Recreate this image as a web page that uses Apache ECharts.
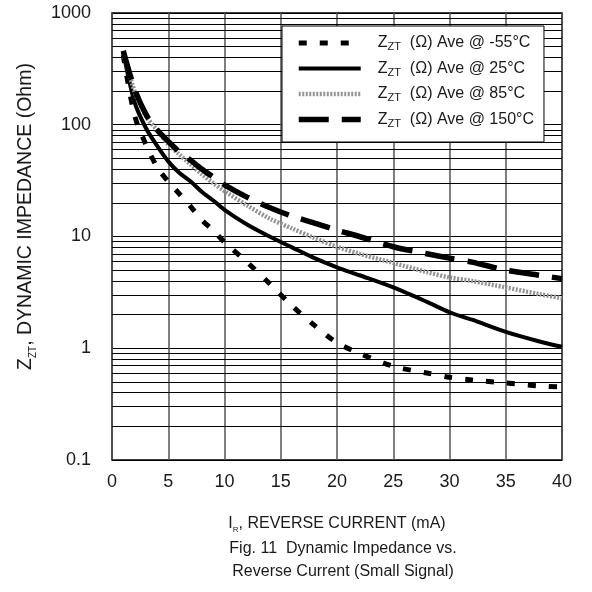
<!DOCTYPE html>
<html>
<head>
<meta charset="utf-8">
<script src="https://cdn.jsdelivr.net/npm/echarts@6/dist/echarts.min.js"></script>
<style>
  html, body { margin: 0; padding: 0; background: #fff; }
  #chart { width: 592px; height: 592px; }
</style>
</head>
<body>
<div id="chart"></div>
<script>
// reverse current (mA), shared by all curves
const current = [1, 2, 3, 4, 5, 6, 7, 8, 9, 10, 12, 14, 16, 18, 20, 22, 25, 28, 30, 32, 35, 38, 40]

// dynamic impedance (Ohm)
const zN55 = [420, 122, 67, 42, 31, 24, 18.5, 14, 11.3, 8.9, 5.9, 3.8, 2.4, 1.6, 1.12, 0.9, 0.69, 0.6, 0.55, 0.52, 0.49, 0.46, 0.45]
const z25 = [450, 160, 94, 65, 47, 37, 31, 25, 21, 17.3, 12.8, 10, 8, 6.4, 5.3, 4.5, 3.5, 2.6, 2.1, 1.8, 1.4, 1.15, 1.03]
const z85 = [440, 200, 120, 90, 67, 54, 44, 36, 30, 25.5, 19, 14.5, 11.8, 9.7, 8.1, 7.0, 5.8, 4.8, 4.3, 4.0, 3.5, 3.05, 2.8]
const z150 = [460, 210, 125, 90, 71, 57, 48, 40, 34, 29, 22.5, 18.2, 15.2, 13.2, 11.4, 10, 8.1, 7.0, 6.4, 5.9, 5.0, 4.5, 4.2]

const seriesNames = ['-55°C', '25°C', '85°C', '150°C']
const xTicks = [0, 5, 10, 15, 20, 25, 30, 35, 40]
const decades = [0.1, 1, 10, 100]
const minorSteps = [2, 3, 4, 5, 6, 7, 8, 9]

const FONT = 'Liberation Sans, Arial, sans-serif'
const INK = '#1a1a1a'

function pairs(ys) {
  return current.map((x, i) => [x, ys[i]])
}

// log-paper minor grid lines
const minorLines = []
decades.forEach(d => {
  minorSteps.forEach(m => {
    minorLines.push({ yAxis: +(d * m).toPrecision(3) })
  })
})

const chart = echarts.init(document.getElementById('chart'))

const options = {
  animation: false,
  backgroundColor: '#fff',
  textStyle: { fontFamily: FONT, color: INK },
  title: {
    text: 'Fig. 11  Dynamic Impedance vs.\nReverse Current (Small Signal)',
    left: 338,
    top: 532,
    textAlign: 'center',
    textStyle: {
      fontFamily: FONT,
      fontSize: 16,
      fontWeight: 'normal',
      color: INK,
      lineHeight: 23
    }
  },
  grid: {
    left: 112,
    right: 30,
    top: 13,
    bottom: 132,
    show: true,
    borderColor: '#000',
    borderWidth: 1.5,
    backgroundColor: 'transparent'
  },
  legend: {
    orient: 'vertical',
    left: 282,
    top: 26,
    padding: [9, 10, 13, 14],
    itemGap: 8,
    itemWidth: 62,
    itemHeight: 14,
    backgroundColor: '#fff',
    borderColor: '#000',
    borderWidth: 1,
    itemStyle: { opacity: 0 },
    lineStyle: { width: 'inherit' },
    data: seriesNames,
    formatter: name => '{z|Z}{s|ZT}{t|  (Ω) Ave @ ' + name + '}',
    textStyle: {
      fontFamily: FONT,
      color: INK,
      padding: [0, 0, 0, 12],
      rich: {
        z: { fontSize: 16, fontFamily: FONT, color: INK, lineHeight: 19, verticalAlign: 'middle' },
        s: { fontSize: 11, fontFamily: FONT, color: INK, lineHeight: 19, verticalAlign: 'bottom' },
        t: { fontSize: 16, fontFamily: FONT, color: INK, lineHeight: 19, verticalAlign: 'middle' }
      }
    }
  },
  xAxis: {
    type: 'value',
    min: 0,
    max: 40,
    interval: 5,
    name: '{i|I}{s|R}{t|, REVERSE CURRENT (mA)}',
    nameLocation: 'middle',
    nameGap: 54,
    nameTextStyle: {
      rich: {
        i: { fontSize: 16, fontFamily: FONT, color: INK, lineHeight: 20, verticalAlign: 'middle' },
        s: { fontSize: 8, fontFamily: FONT, color: INK, lineHeight: 20, verticalAlign: 'bottom' },
        t: { fontSize: 16, fontFamily: FONT, color: INK, lineHeight: 20, verticalAlign: 'middle' }
      }
    },
    axisLine: { show: false },
    axisTick: { show: false },
    axisLabel: {
      fontSize: 18,
      fontFamily: FONT,
      color: INK,
      margin: 13,
      formatter: v => (xTicks.indexOf(v) >= 0 ? String(v) : '')
    },
    splitLine: { show: true, lineStyle: { color: '#555', width: 1.5 } }
  },
  yAxis: {
    type: 'log',
    logBase: 10,
    min: 0.1,
    max: 1000,
    name: '{z|Z}{s|ZT}{t|, DYNAMIC IMPEDANCE (Ohm)}',
    nameLocation: 'middle',
    nameGap: 74,
    nameRotate: 90,
    nameTextStyle: {
      padding: [0, 0, 0, 40],
      rich: {
        z: { fontSize: 19.5, fontFamily: FONT, color: INK, lineHeight: 24, verticalAlign: 'middle' },
        s: { fontSize: 10, fontFamily: FONT, color: INK, lineHeight: 24, verticalAlign: 'bottom' },
        t: { fontSize: 19.5, fontFamily: FONT, color: INK, lineHeight: 24, verticalAlign: 'middle' }
      }
    },
    axisLine: { show: false },
    axisTick: { show: false },
    axisLabel: {
      fontSize: 18,
      fontFamily: FONT,
      color: INK,
      margin: 21,
      formatter: v => String(+v.toPrecision(3))
    },
    splitLine: { show: true, lineStyle: { color: '#000', width: 1 } }
  },
  series: [
    {
      name: seriesNames[0],
      type: 'line',
      smooth: 0.3,
      symbol: 'none',
      data: pairs(zN55),
      z: 5,
      itemStyle: { color: '#000' },
      lineStyle: { color: '#000', width: 5, type: [8, 13] }
    },
    {
      name: seriesNames[1],
      type: 'line',
      smooth: 0.3,
      symbol: 'none',
      data: pairs(z25),
      z: 5,
      itemStyle: { color: '#000' },
      lineStyle: { color: '#000', width: 4, type: 'solid' },
      markLine: {
        silent: true,
        symbol: 'none',
        animation: false,
        label: { show: false },
        lineStyle: { color: '#000', width: 1, type: 'solid' },
        z: 1,
        data: minorLines
      }
    },
    {
      name: seriesNames[2],
      type: 'line',
      smooth: 0.3,
      symbol: 'none',
      data: pairs(z85),
      z: 5,
      itemStyle: { color: '#999' },
      lineStyle: { color: '#939393', width: 4.5, type: [2, 1.5] }
    },
    {
      name: seriesNames[3],
      type: 'line',
      smooth: 0.3,
      symbol: 'none',
      data: pairs(z150),
      z: 5,
      itemStyle: { color: '#000' },
      lineStyle: { color: '#000', width: 5.5, type: [30, 13] }
    }
  ]
}

chart.setOption(options)
</script>
</body>
</html>
